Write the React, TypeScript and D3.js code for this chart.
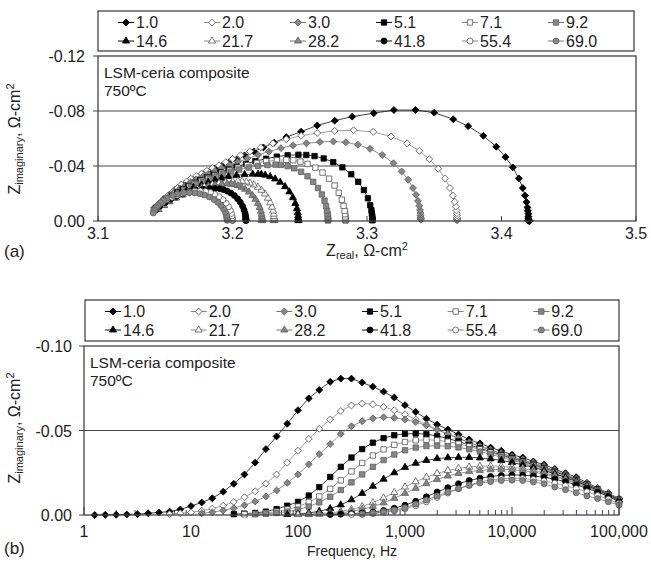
import React from 'react';
import * as d3 from 'd3';

// sweep frequencies, Hz (10 points per decade)
const FREQ = [1.26, 1.58, 2.0, 2.51, 3.16, 3.98, 5.01, 6.31, 7.94, 10, 12.6, 15.8, 20, 25.1, 31.6, 39.8, 50.1, 63.1, 79.4, 100,
  126, 158, 200, 251, 316, 398, 501, 631, 794, 1000, 1259, 1585, 1995, 2512, 3162, 3981, 5012, 6310, 7943, 10000,
  12589, 15849, 19953, 25119, 31623, 39811, 50119, 63096, 79433, 100000];

const LABELS = ['1.0', '2.0', '3.0', '5.1', '7.1', '9.2', '14.6', '21.7', '28.2', '41.8', '55.4', '69.0'];
// index of the first frequency of each sweep
const FIRST = [0, 7, 10, 13, 14, 15, 18, 19, 20, 22, 24, 25];

// -Z'' (ohm-cm2) and Z' (ohm-cm2) per sweep
const zim10 = [0.0000, 0.0001, 0.0002, 0.0003, 0.0005, 0.0010, 0.0015, 0.0020, 0.0033, 0.0053, 0.0074, 0.0099, 0.0138, 0.0185, 0.0240, 0.0310, 0.0390, 0.0465, 0.0540, 0.0620, 0.0690, 0.0740, 0.0788, 0.0807, 0.0807, 0.0784, 0.0759, 0.0730, 0.0695, 0.0650, 0.0610, 0.0570, 0.0535, 0.0506, 0.0477, 0.0447, 0.0424, 0.0399, 0.0380, 0.0356, 0.0340, 0.0317, 0.0298, 0.0272, 0.0247, 0.0224, 0.0190, 0.0160, 0.0130, 0.0097];
const zre10 = [3.421, 3.421, 3.420, 3.420, 3.420, 3.420, 3.420, 3.420, 3.420, 3.420, 3.4196, 3.4193, 3.4186, 3.4175, 3.4158, 3.4129, 3.4084, 3.4030, 3.3961, 3.3865, 3.3752, 3.3641, 3.3500, 3.3360, 3.3200, 3.3050, 3.2890, 3.2760, 3.2630, 3.2510, 3.2400, 3.2310, 3.2230, 3.2160, 3.2090, 3.2030, 3.1970, 3.1920, 3.1870, 3.1820, 3.1780, 3.1730, 3.1690, 3.1650, 3.1610, 3.1570, 3.1530, 3.1490, 3.1460, 3.1420];
const zim20 = [0.0005, 0.0010, 0.0016, 0.0025, 0.0038, 0.0055, 0.0077, 0.0105, 0.0140, 0.0185, 0.0240, 0.0310, 0.0380, 0.0450, 0.0510, 0.0565, 0.0615, 0.0648, 0.0660, 0.0655, 0.0640, 0.0620, 0.0595, 0.0565, 0.0535, 0.0505, 0.0478, 0.0452, 0.0428, 0.0405, 0.0385, 0.0365, 0.0345, 0.0328, 0.0308, 0.0288, 0.0265, 0.0240, 0.0215, 0.0185, 0.0158, 0.0128, 0.0095];
const zre20 = [3.367, 3.367, 3.367, 3.3669, 3.3669, 3.3667, 3.3665, 3.3660, 3.3652, 3.3639, 3.3617, 3.3580, 3.3530, 3.3463, 3.3389, 3.3298, 3.3179, 3.3046, 3.2900, 3.276, 3.263, 3.251, 3.240, 3.230, 3.221, 3.213, 3.206, 3.200, 3.195, 3.190, 3.185, 3.181, 3.177, 3.173, 3.169, 3.166, 3.162, 3.159, 3.156, 3.152, 3.149, 3.146, 3.142];
const zim30 = [0.0010, 0.0017, 0.0027, 0.0040, 0.0058, 0.0080, 0.0110, 0.0145, 0.0190, 0.0240, 0.0300, 0.0360, 0.0420, 0.0480, 0.0525, 0.0555, 0.0572, 0.0578, 0.0575, 0.0565, 0.0550, 0.0530, 0.0505, 0.0480, 0.0455, 0.0430, 0.0407, 0.0385, 0.0363, 0.0342, 0.0323, 0.0303, 0.0283, 0.0260, 0.0236, 0.0212, 0.0183, 0.0155, 0.0125, 0.0093];
const zre30 = [3.340, 3.340, 3.3399, 3.3398, 3.3397, 3.3394, 3.3388, 3.3379, 3.3364, 3.3342, 3.3306, 3.3258, 3.3197, 3.3113, 3.3022, 3.2932, 3.2842, 3.275, 3.265, 3.255, 3.245, 3.236, 3.227, 3.219, 3.211, 3.204, 3.198, 3.192, 3.187, 3.182, 3.178, 3.173, 3.169, 3.165, 3.161, 3.157, 3.153, 3.149, 3.146, 3.142];
const zim51 = [0.0005, 0.0008, 0.0012, 0.0020, 0.0035, 0.0055, 0.0078, 0.0115, 0.0165, 0.0225, 0.0285, 0.0340, 0.0390, 0.0428, 0.0455, 0.0472, 0.0480, 0.0482, 0.0478, 0.0468, 0.0453, 0.0435, 0.0415, 0.0395, 0.0375, 0.0355, 0.0336, 0.0317, 0.0298, 0.0278, 0.0256, 0.0232, 0.0208, 0.0180, 0.0152, 0.0122, 0.0091];
const zre51 = [3.304, 3.304, 3.304, 3.304, 3.3039, 3.3036, 3.3033, 3.3024, 3.3007, 3.2977, 3.2935, 3.2883, 3.2817, 3.2749, 3.2678, 3.2610, 3.2549, 3.2490, 3.241, 3.233, 3.225, 3.217, 3.210, 3.203, 3.197, 3.191, 3.186, 3.181, 3.176, 3.172, 3.167, 3.163, 3.159, 3.155, 3.151, 3.147, 3.143];
const zim71 = [0.0004, 0.0007, 0.0012, 0.0020, 0.0033, 0.0050, 0.0075, 0.0110, 0.0155, 0.0205, 0.0258, 0.0308, 0.0352, 0.0388, 0.0415, 0.0432, 0.0442, 0.0445, 0.0442, 0.0434, 0.0422, 0.0406, 0.0388, 0.0369, 0.0350, 0.0331, 0.0312, 0.0293, 0.0273, 0.0251, 0.0228, 0.0204, 0.0177, 0.0149, 0.0120, 0.0089];
const zre71 = [3.284, 3.284, 3.284, 3.2839, 3.2839, 3.2837, 3.2834, 3.2826, 3.2813, 3.2790, 3.2759, 3.2718, 3.2669, 3.2616, 3.2558, 3.2505, 3.2452, 3.2400, 3.233, 3.225, 3.218, 3.211, 3.204, 3.198, 3.192, 3.187, 3.182, 3.177, 3.172, 3.168, 3.164, 3.160, 3.156, 3.152, 3.148, 3.144];
const zim92 = [0.0004, 0.0007, 0.0012, 0.0020, 0.0032, 0.0050, 0.0075, 0.0108, 0.0148, 0.0193, 0.0240, 0.0285, 0.0325, 0.0358, 0.0383, 0.0399, 0.0408, 0.0410, 0.0407, 0.0400, 0.0389, 0.0375, 0.0359, 0.0342, 0.0324, 0.0306, 0.0287, 0.0268, 0.0246, 0.0224, 0.0200, 0.0174, 0.0147, 0.0118, 0.0088];
const zre92 = [3.271, 3.271, 3.271, 3.271, 3.2709, 3.2707, 3.2703, 3.2696, 3.2684, 3.2664, 3.2636, 3.2600, 3.2558, 3.2510, 3.2459, 3.2410, 3.2359, 3.2320, 3.226, 3.219, 3.212, 3.205, 3.199, 3.193, 3.188, 3.183, 3.178, 3.173, 3.169, 3.165, 3.161, 3.157, 3.153, 3.149, 3.144];
const zim146 = [0.0003, 0.0006, 0.0012, 0.0022, 0.0038, 0.0060, 0.0090, 0.0128, 0.0170, 0.0212, 0.0250, 0.0282, 0.0306, 0.0323, 0.0334, 0.0339, 0.0341, 0.0341, 0.0338, 0.0332, 0.0323, 0.0311, 0.0297, 0.0281, 0.0263, 0.0243, 0.0222, 0.0199, 0.0173, 0.0146, 0.0117, 0.0087];
const zre146 = [3.249, 3.249, 3.249, 3.2489, 3.2488, 3.2485, 3.2479, 3.2467, 3.2449, 3.2423, 3.2391, 3.2354, 3.2317, 3.2280, 3.2243, 3.2214, 3.2190, 3.2150, 3.209, 3.203, 3.197, 3.192, 3.187, 3.182, 3.177, 3.171, 3.166, 3.161, 3.156, 3.152, 3.148, 3.144];
const zim217 = [0.0003, 0.0005, 0.0008, 0.0013, 0.0021, 0.0033, 0.0050, 0.0073, 0.0101, 0.0133, 0.0166, 0.0197, 0.0224, 0.0246, 0.0263, 0.0276, 0.0284, 0.0289, 0.0290, 0.0288, 0.0283, 0.0275, 0.0264, 0.0250, 0.0233, 0.0213, 0.0192, 0.0168, 0.0142, 0.0114, 0.0085];
const zre217 = [3.231, 3.231, 3.231, 3.231, 3.2309, 3.2308, 3.2306, 3.2302, 3.2294, 3.2281, 3.2263, 3.2241, 3.2215, 3.2188, 3.2159, 3.2130, 3.2103, 3.2072, 3.2040, 3.200, 3.195, 3.190, 3.185, 3.179, 3.174, 3.168, 3.163, 3.158, 3.153, 3.149, 3.145];
const zim282 = [0.0003, 0.0005, 0.0008, 0.0013, 0.0021, 0.0033, 0.0050, 0.0072, 0.0099, 0.0128, 0.0158, 0.0186, 0.0211, 0.0231, 0.0246, 0.0257, 0.0264, 0.0268, 0.0270, 0.0268, 0.0263, 0.0254, 0.0242, 0.0227, 0.0209, 0.0188, 0.0165, 0.0140, 0.0112, 0.0083];
const zre282 = [3.222, 3.222, 3.222, 3.222, 3.2219, 3.2218, 3.2216, 3.2211, 3.2202, 3.2189, 3.2171, 3.2148, 3.2122, 3.2094, 3.2067, 3.2040, 3.2014, 3.1992, 3.1960, 3.192, 3.187, 3.182, 3.177, 3.172, 3.167, 3.162, 3.157, 3.153, 3.149, 3.145];
const zim418 = [0.0003, 0.0005, 0.0008, 0.0012, 0.0018, 0.0027, 0.0040, 0.0058, 0.0081, 0.0108, 0.0136, 0.0162, 0.0185, 0.0204, 0.0218, 0.0228, 0.0234, 0.0237, 0.0236, 0.0231, 0.0223, 0.0212, 0.0197, 0.0179, 0.0158, 0.0135, 0.0109, 0.0080];
const zre418 = [3.210, 3.210, 3.210, 3.210, 3.2099, 3.2098, 3.2097, 3.2093, 3.2086, 3.2075, 3.2058, 3.2038, 3.2014, 3.1987, 3.1960, 3.1933, 3.1906, 3.1870, 3.183, 3.178, 3.173, 3.168, 3.163, 3.158, 3.154, 3.150, 3.146, 3.143];
const zim554 = [0.0003, 0.0005, 0.0009, 0.0015, 0.0024, 0.0037, 0.0055, 0.0078, 0.0104, 0.0130, 0.0155, 0.0177, 0.0195, 0.0207, 0.0215, 0.0218, 0.0216, 0.0210, 0.0201, 0.0188, 0.0173, 0.0156, 0.0137, 0.0116, 0.0093, 0.0068];
const zre554 = [3.200, 3.200, 3.200, 3.200, 3.1999, 3.1996, 3.1992, 3.1984, 3.1971, 3.1953, 3.1929, 3.1900, 3.1867, 3.1835, 3.1800, 3.1760, 3.172, 3.168, 3.163, 3.159, 3.155, 3.151, 3.148, 3.145, 3.143, 3.141];
const zim690 = [0.0005, 0.0010, 0.0019, 0.0029, 0.0043, 0.0064, 0.0088, 0.0113, 0.0136, 0.0156, 0.0175, 0.0189, 0.0198, 0.0204, 0.0206, 0.0204, 0.0195, 0.0185, 0.0165, 0.0150, 0.0132, 0.0113, 0.0097, 0.0078, 0.0058];
const zre690 = [3.196, 3.196, 3.1959, 3.1957, 3.1954, 3.1946, 3.1933, 3.1914, 3.1890, 3.1863, 3.1828, 3.1791, 3.1757, 3.1719, 3.1680, 3.1641, 3.1590, 3.1557, 3.1513, 3.1488, 3.1465, 3.1446, 3.1433, 3.1421, 3.1411];

const ZIM = [zim10, zim20, zim30, zim51, zim71, zim92, zim146, zim217, zim282, zim418, zim554, zim690];
const ZRE = [zre10, zre20, zre30, zre51, zre71, zre92, zre146, zre217, zre282, zre418, zre554, zre690];

const SHAPES = ['diamond', 'square', 'triangle', 'circle'];
const TONES = ['black', 'open', 'gray'];
const TONE_STYLE: Record<string, { fill: string; stroke: string; line: string }> = {
  black: { fill: '#000', stroke: '#000', line: '#111' },
  open: { fill: '#fff', stroke: '#555', line: '#888' },
  gray: { fill: '#858585', stroke: '#606060', line: '#777' },
};

const FONT = '"Liberation Sans", Arial, sans-serif';
const INK = '#222';
const FRAME = '#444';

const symbolPath = (shape: string) => {
  if (shape === 'diamond') return d3.symbol().type(d3.symbolSquare).size(24)();
  if (shape === 'square') return d3.symbol().type(d3.symbolSquare).size(29)();
  if (shape === 'triangle') return d3.symbol().type(d3.symbolTriangle).size(22)();
  return d3.symbol().type(d3.symbolCircle).size(28)();
};

const series = LABELS.map((label, i) => {
  const shape = SHAPES[Math.floor(i / 3)];
  const tone = TONES[i % 3];
  const pts = ZIM[i].map((m, j) => ({ f: FREQ[FIRST[i] + j], re: ZRE[i][j], m }));
  return { label, shape, tone, pts, path: symbolPath(shape) };
});

function Mark({ s, x, y }: any) {
  const st = TONE_STYLE[s.tone];
  const rot = s.shape === 'diamond' ? ' rotate(45)' : '';
  return <path d={s.path} transform={`translate(${x},${y})${rot}`} fill={st.fill} stroke={st.stroke} strokeWidth={0.8} />;
}

function Legend({ left, right, top, bottom }: any) {
  const rows = [top + 11.5, top + 30];
  const colW = (right - left - 20) / 6;
  return (
    <g>
      <rect x={left} y={top} width={right - left} height={bottom - top} fill="#fff" stroke={FRAME} strokeWidth={1.3} />
      {series.map((s, i) => {
        const x0 = left + 20 + colW * (i % 6);
        const y = rows[Math.floor(i / 6)];
        return (
          <g key={s.label}>
            <line x1={x0} x2={x0 + 16} y1={y} y2={y} stroke={TONE_STYLE[s.tone].line} strokeWidth={1} />
            <Mark s={s} x={x0 + 8} y={y} />
            <text x={x0 + 18} y={y + 5.5} fontSize={16} fill={INK}>{s.label}</text>
          </g>
        );
      })}
    </g>
  );
}

function YTitle({ x, y }: any) {
  return (
    <text transform={`translate(${x},${y}) rotate(-90)`} textAnchor="middle" fontSize={16} fill={INK}>
      Z<tspan fontSize={11} dy={3}>imaginary</tspan><tspan dy={-3}>, Ω-cm</tspan><tspan fontSize={11} dy={-6}>2</tspan>
    </text>
  );
}

function Note({ x, y }: any) {
  return (
    <g fontSize={15.5} fill={INK}>
      <text x={x} y={y}>LSM-ceria composite</text>
      <text x={x} y={y + 18}>750ºC</text>
    </g>
  );
}

const yFmt = (v: number) => (v === 0 ? '0.00' : '-' + v.toFixed(2));

function PanelA() {
  const x = d3.scaleLinear().domain([3.1, 3.5]).range([98, 636]);
  const y = d3.scaleLinear().domain([0, 0.12]).range([221, 56]);
  const line = d3.line<any>().x(d => x(d.re)).y(d => y(d.m));
  const yt = [0, 0.04, 0.08, 0.12];
  const xt = [3.1, 3.2, 3.3, 3.4, 3.5];
  return (
    <g>
      {yt.map(t => (
        <g key={t}>
          {t > 0 && t < 0.12 && <line x1={98} x2={636} y1={y(t)} y2={y(t)} stroke={FRAME} strokeWidth={1} />}
          <line x1={93} x2={98} y1={y(t)} y2={y(t)} stroke={FRAME} />
          <text x={85} y={y(t) + 6} textAnchor="end" fontSize={16} fill={INK}>{yFmt(t)}</text>
        </g>
      ))}
      {xt.map(t => (
        <g key={t}>
          <line x1={x(t)} x2={x(t)} y1={221} y2={216} stroke={FRAME} />
          <text x={x(t)} y={239} textAnchor="middle" fontSize={16} fill={INK}>{t.toFixed(1)}</text>
        </g>
      ))}
      {series.map(s => (
        <g key={s.label}>
          <path d={line(s.pts) || ''} fill="none" stroke={TONE_STYLE[s.tone].line} strokeWidth={0.8} />
          {s.pts.map((p, j) => <Mark key={j} s={s} x={x(p.re)} y={y(p.m)} />)}
        </g>
      ))}
      <rect x={98} y={56} width={538} height={165} fill="none" stroke={FRAME} strokeWidth={1.3} />
      <Note x={104} y={78} />
      <YTitle x={20} y={139} />
      <text x={367} y={256} textAnchor="middle" fontSize={16} fill={INK}>
        Z<tspan fontSize={11} dy={3}>real</tspan><tspan dy={-3}>, Ω-cm</tspan><tspan fontSize={11} dy={-6}>2</tspan>
      </text>
      <text x={4} y={257} fontSize={17} fill={INK}>(a)</text>
      <Legend left={98} right={634} top={11} bottom={51} />
    </g>
  );
}

function PanelB() {
  const x = d3.scaleLog().domain([1, 1e5]).range([84, 619]);
  const y = d3.scaleLinear().domain([0, 0.1]).range([515, 346]);
  const line = d3.line<any>().x(d => x(d.f)).y(d => y(d.m));
  const yt = [0, 0.05, 0.1];
  const all = x.ticks();
  const major = [1, 10, 100, 1000, 10000, 100000];
  const fmt = d3.format(',');
  return (
    <g>
      {yt.map(t => (
        <g key={t}>
          {t > 0 && t < 0.1 && <line x1={84} x2={619} y1={y(t)} y2={y(t)} stroke={FRAME} strokeWidth={1} />}
          <line x1={79} x2={84} y1={y(t)} y2={y(t)} stroke={FRAME} />
          <text x={72} y={y(t) + 6} textAnchor="end" fontSize={16} fill={INK}>{yFmt(t)}</text>
        </g>
      ))}
      {all.map(t => {
        const isMajor = major.includes(t);
        return <line key={t} x1={x(t)} x2={x(t)} y1={515} y2={isMajor ? 507 : 510} stroke={FRAME} />;
      })}
      {major.map(t => (
        <text key={t} x={x(t)} y={537} textAnchor="middle" fontSize={16} fill={INK}>{fmt(t)}</text>
      ))}
      {series.map(s => (
        <g key={s.label}>
          <path d={line(s.pts) || ''} fill="none" stroke={TONE_STYLE[s.tone].line} strokeWidth={0.8} />
          {s.pts.map((p, j) => <Mark key={j} s={s} x={x(p.f)} y={y(p.m)} />)}
        </g>
      ))}
      <rect x={84} y={346} width={535} height={169} fill="none" stroke={FRAME} strokeWidth={1.3} />
      <Note x={90} y={368} />
      <YTitle x={20} y={428} />
      <text x={352} y={556} textAnchor="middle" fontSize={14} fill={INK}>Frequency, Hz</text>
      <text x={4} y={554} fontSize={17} fill={INK}>(b)</text>
      <Legend left={85} right={619} top={300} bottom={341} />
    </g>
  );
}

export default function App() {
  return (
    <svg width={651} height={569} style={{ position: 'absolute', left: 0, top: 0, background: '#fff' }} fontFamily={FONT}>
      <PanelA />
      <PanelB />
    </svg>
  );
}
